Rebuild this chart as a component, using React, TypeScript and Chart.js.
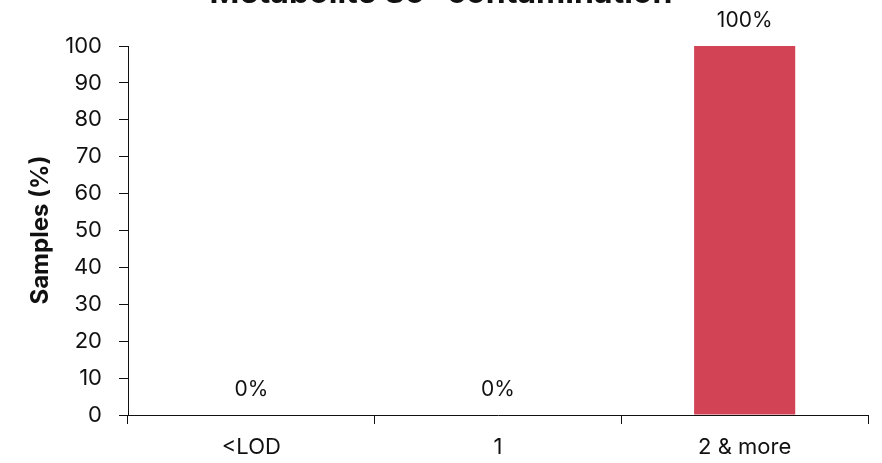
import React, { useEffect, useRef } from "react";
import { Chart, registerables } from "chart.js";

Chart.register(...registerables);

const TITLE = "Metabolite So- contamination";
const categories = ["<LOD", "1", "2 & more"];
const values = [0, 0, 100];
const valueLabels = ["0%", "0%", "100%"];
const yTitle = "Samples (%)";

const FONT = "Inter, 'Open Sans', sans-serif";
const INK = "#111111";

export default function App() {
  const ref = useRef<HTMLCanvasElement | null>(null);
  useEffect(() => {
    if (!ref.current) return;
    const labelPlugin = {
      id: "valueLabels",
      afterDatasetsDraw(chart: any) {
        const ctx = chart.ctx;
        const meta = chart.getDatasetMeta(0);
        ctx.save();
        ctx.fillStyle = INK;
        ctx.font = `21px ${FONT}`;
        ctx.textAlign = "center";
        ctx.textBaseline = "middle";
        meta.data.forEach((el: any, i: number) => {
          ctx.fillText(valueLabels[i], el.x, el.y - 25);
        });
        ctx.restore();
      },
    };
    const titlePlugin = {
      id: "clippedTitle",
      afterDraw(chart: any) {
        const ctx = chart.ctx;
        ctx.save();
        ctx.fillStyle = INK;
        ctx.font = `bold 32px ${FONT}`;
        ctx.textAlign = "center";
        ctx.textBaseline = "alphabetic";
        ctx.fillText(TITLE, chart.width / 2, 3);
        // y axis title
        ctx.translate(41, 230);
        ctx.rotate(-Math.PI / 2);
        ctx.font = `bold 24px ${FONT}`;
        ctx.textBaseline = "middle";
        ctx.fillText(yTitle, 0, 0);
        ctx.restore();
      },
    };
    const chart = new Chart(ref.current, {
      type: "bar",
      data: {
        labels: categories,
        datasets: [
          {
            data: values,
            backgroundColor: "#D24455",
            barPercentage: 0.41,
            categoryPercentage: 1,
          },
        ],
      },
      options: {
        animation: false,
        responsive: false,
        maintainAspectRatio: false,
        layout: { padding: { top: 46, right: 14, left: 0, bottom: 0 } },
        plugins: {
          legend: { display: false },
          title: { display: false },
          tooltip: { enabled: false },
        },
        scales: {
          x: {
            grid: {
              offset: true,
              drawOnChartArea: false,
              drawTicks: true,
              tickLength: 9,
              color: INK,
            },
            border: { display: true, color: INK, width: 1 },
            ticks: {
              color: INK,
              font: { family: FONT, size: 22 },
              padding: 10,
              maxRotation: 0,
            },
            afterFit(scale: any) {
              scale.height = 48;
            },
          },
          y: {
            min: 0,
            max: 100,
            grid: {
              drawOnChartArea: false,
              drawTicks: true,
              tickLength: 9,
              color: INK,
            },
            border: { display: true, color: INK, width: 1 },
            ticks: {
              stepSize: 10,
              color: INK,
              font: { family: FONT, size: 22 },
              padding: 17,
            },
            afterFit(scale: any) {
              scale.width = 128;
            },
          },
        },
      },
      plugins: [labelPlugin, titlePlugin],
    });
    return () => chart.destroy();
  }, []);
  return (
    <div style={{ position: "absolute", left: 0, top: 0, width: 882, height: 463 }}>
      <canvas ref={ref} width={882} height={463} style={{ display: "block", width: 882, height: 463 }} />
    </div>
  );
}
